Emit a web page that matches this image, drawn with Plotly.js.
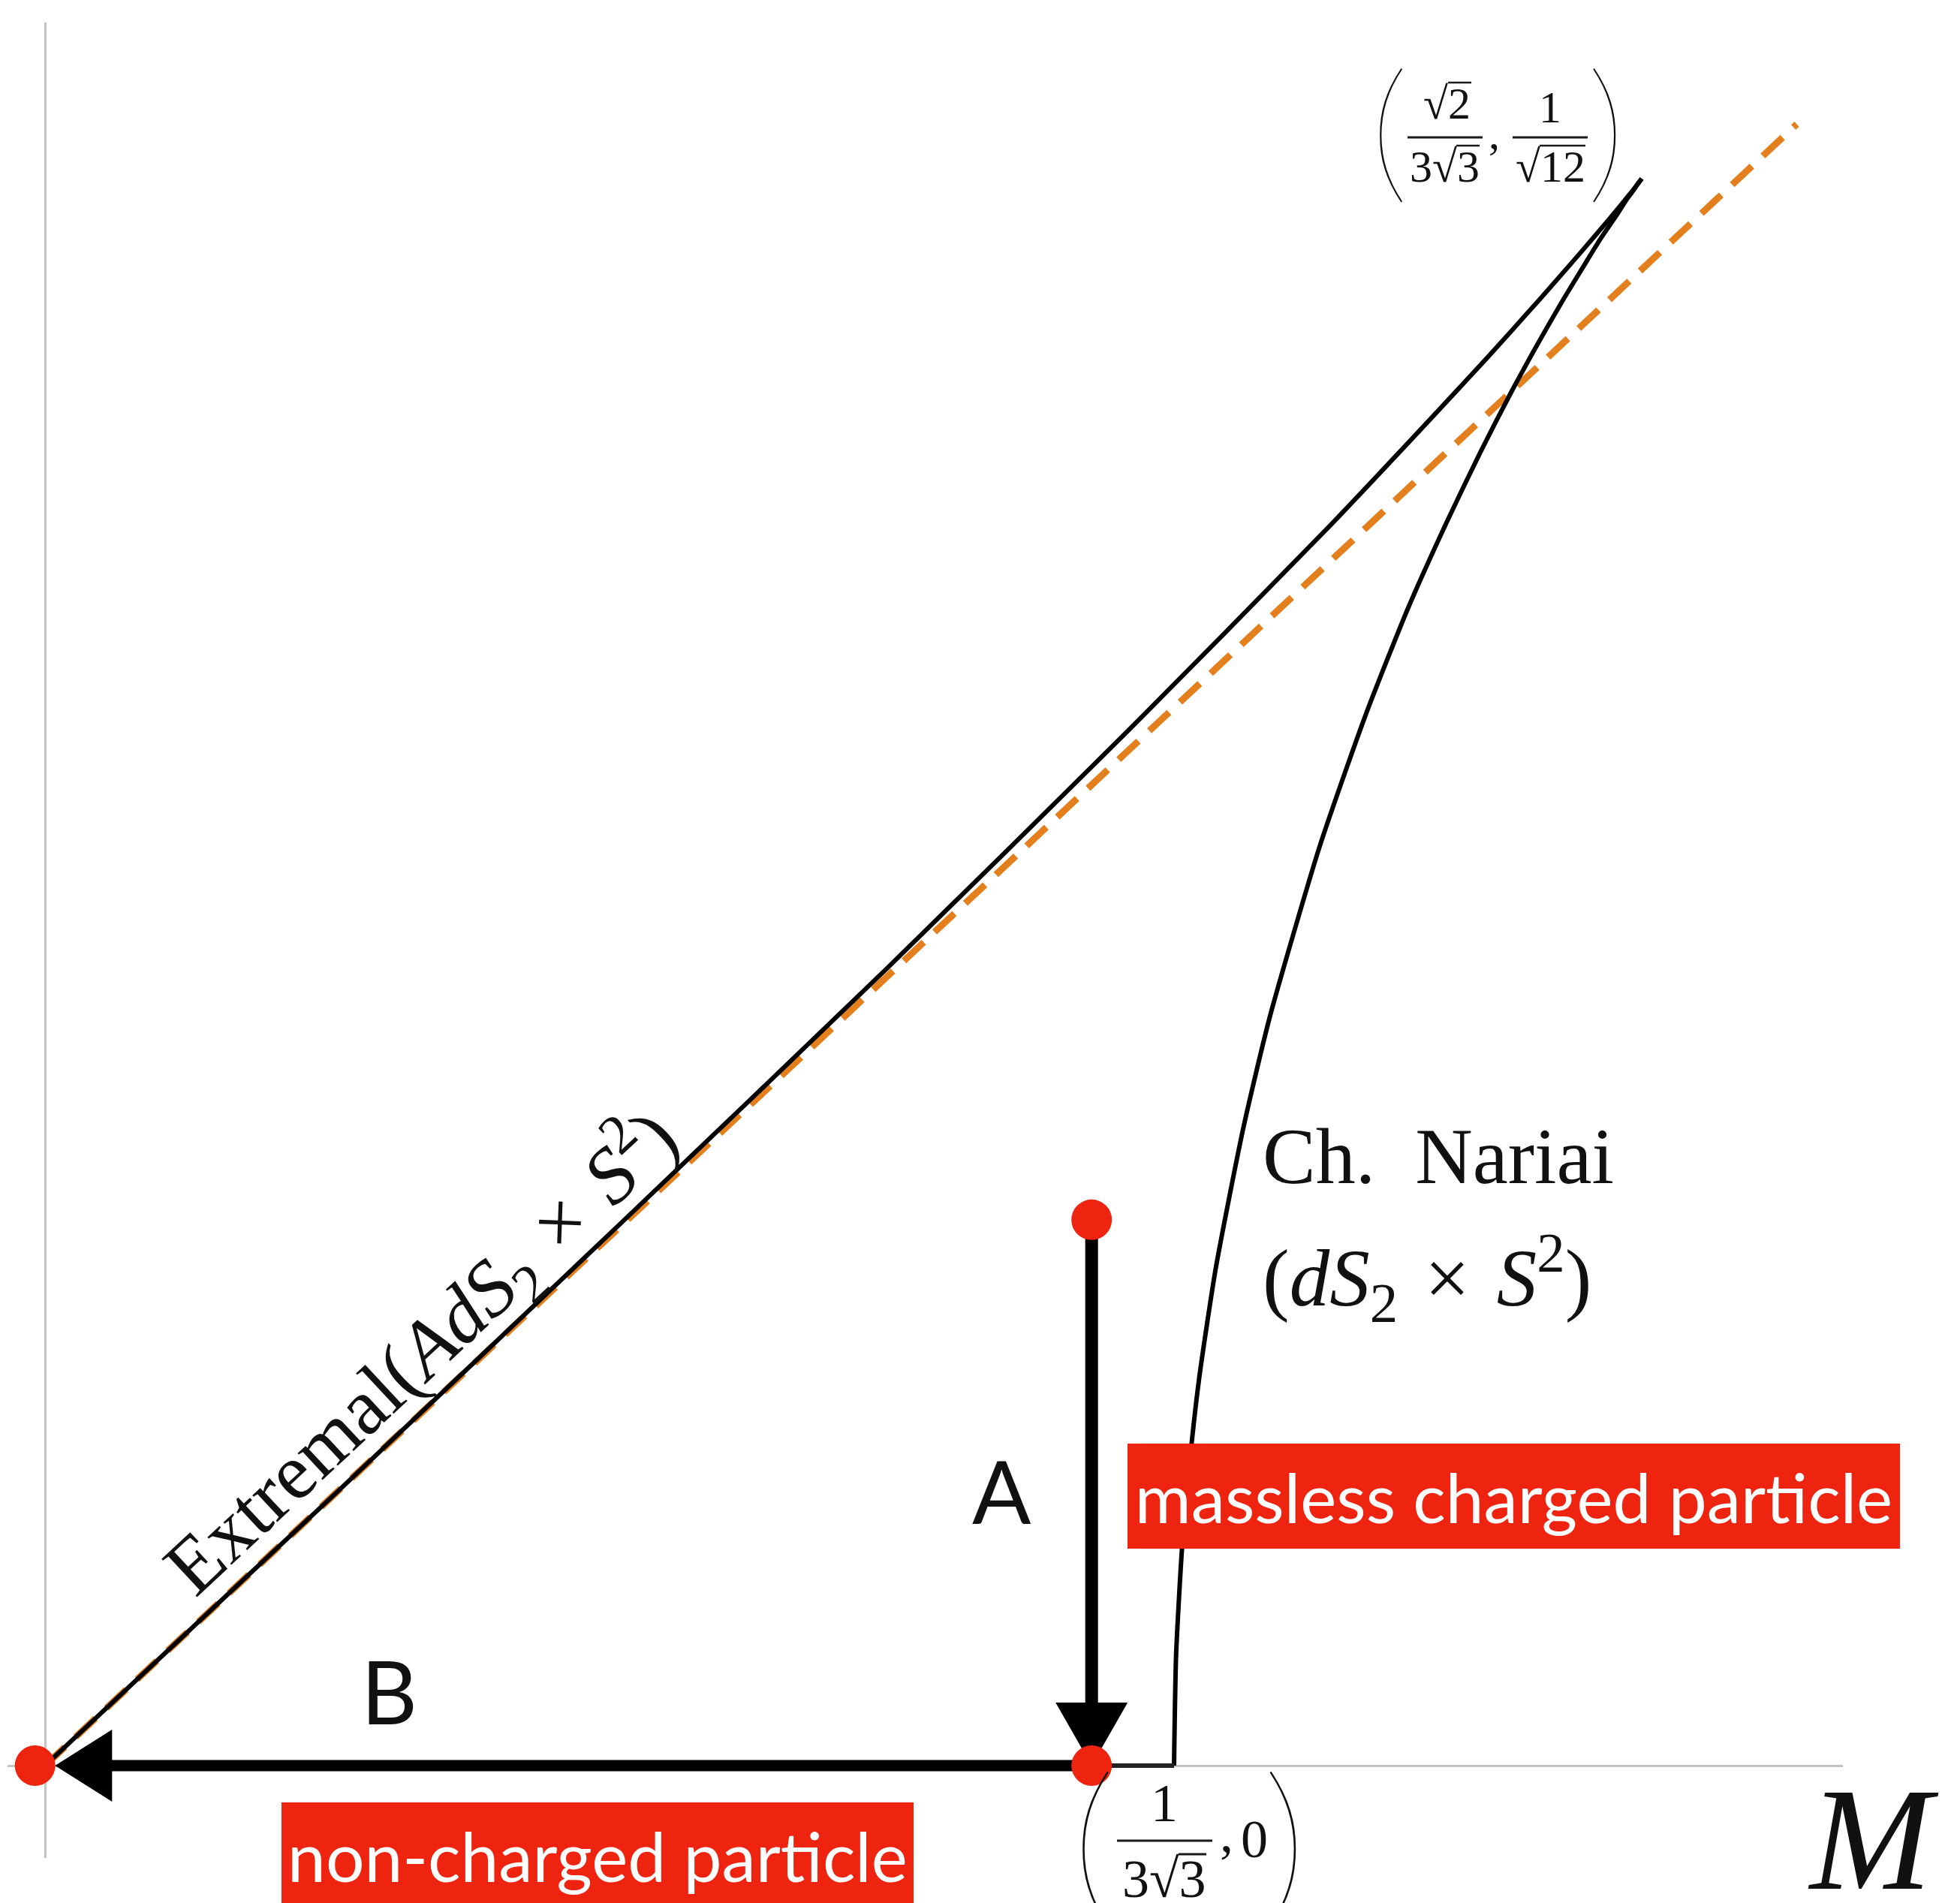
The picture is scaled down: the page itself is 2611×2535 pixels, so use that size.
<!DOCTYPE html>
<html><head><meta charset="utf-8">
<script src="https://cdn.plot.ly/plotly-3.0.1.min.js"></script>
<style>html,body{margin:0;padding:0;background:#fff}#chart{width:2611px;height:2535px}</style>
</head><body><div id="chart"></div>
<script>
// ---- data (M horizontal, Q vertical) ----
// extremal branch (AdS2 x S2), from the origin up to the cusp
const extremalM = [0, 0.0498, 0.0980, 0.1433, 0.1840, 0.2188, 0.2361, 0.2460, 0.2545, 0.2614, 0.2667, 0.2703, 0.2714, 0.2720, 0.27217];
const extremalQ = [0, 0.0498, 0.0985, 0.1448, 0.1876, 0.2253, 0.2449, 0.2563, 0.2664, 0.2748, 0.2814, 0.2861, 0.2876, 0.2884, 0.28868];
// charged Nariai branch (dS2 x S2), from the cusp down to the M axis
const nariaiM = [0.27217, 0.2718, 0.2710, 0.2696, 0.2678, 0.2653, 0.2624, 0.2588, 0.2547, 0.2500, 0.2447, 0.2388, 0.2322, 0.2251, 0.2173, 0.2088, 0.2043, 0.1996, 0.1967, 0.1948, 0.1938, 0.1928, 0.19245];
const nariaiQ = [0.28868, 0.2882, 0.2869, 0.2849, 0.2819, 0.2780, 0.2730, 0.2667, 0.2591, 0.2500, 0.2390, 0.2259, 0.2102, 0.1911, 0.1673, 0.1363, 0.1162, 0.0907, 0.0702, 0.0518, 0.0394, 0.0201, 0];
// piece of the black curve lying on the M axis
const axisSegM = [0.1784, 0.19245];
const axisSegQ = [0, 0];
// lukewarm line Q = M (orange, dashed)
const lukewarmM = [0, 0.2986];
const lukewarmQ = [0, 0.2986];
// red points
const pointM = [-0.0017, 0.1784, 0.1784];
const pointQ = [0, 0, 0.0993];
// arrows: A goes down to the M axis, B goes left to the origin
const arrowA = {fromM: 0.1784, fromQ: 0.0993, shaftEndQ: 0.0085, tipM: 0.1784, tipQ: 0};
const arrowB = {fromM: 0.1784, fromQ: 0, shaftEndM: 0.0077, tipM: 0.0017, tipQ: 0};
// text
const labelA = 'A', labelB = 'B';
const boxA = 'massless charged particle', boxB = 'non-charged particle';

// ---- geometry helpers (page pixels -> paper) ----
const W = 2611, H = 2535, ML = 10, MR = 156, MT = 30, MB = 60;
const PW = W - ML - MR, PH = H - MT - MB;
const px = v => (v - ML) / PW;
const py = v => 1 - (v - MT) / PH;

const RED = '#ee2410', INK = '#111111';
const SERIF = 'Liberation Serif, Times New Roman, serif';
const SANS = 'Lato, Noto Sans, sans-serif';

function txt(text, x, y, size, o) {
  o = o || {};
  return Object.assign({
    xref: 'paper', yref: 'paper', x: px(x), y: py(y), text: text, showarrow: false,
    xanchor: 'center', yanchor: 'middle', borderpad: 0, borderwidth: 0,
    font: Object.assign({family: SERIF, size: size, color: INK}, o.font || {})
  }, o.extra || {});
}
function bar(x0, x1, y, w) {
  return {type: 'line', xref: 'paper', yref: 'paper', x0: px(x0), x1: px(x1), y0: py(y), y1: py(y),
          line: {color: '#1a1a1a', width: w || 3}, layer: 'above'};
}
const PAREN = {family: 'Lato', weight: 200};

const traces = [
  {x: lukewarmM, y: lukewarmQ, type: 'scatter', mode: 'lines', hoverinfo: 'skip',
   line: {color: '#e37f1c', width: 9, dash: '36px,20px'}},
  {x: extremalM, y: extremalQ, type: 'scatter', mode: 'lines', hoverinfo: 'skip',
   line: {color: '#000', width: 6, shape: 'spline', smoothing: 0.6}},
  {x: nariaiM, y: nariaiQ, type: 'scatter', mode: 'lines', hoverinfo: 'skip',
   line: {color: '#000', width: 6, shape: 'spline', smoothing: 0.6}},
  {x: axisSegM, y: axisSegQ, type: 'scatter', mode: 'lines', hoverinfo: 'skip',
   line: {color: '#222', width: 6}},
  {x: pointM, y: pointQ, type: 'scatter', mode: 'markers', hoverinfo: 'skip', cliponaxis: false,
   marker: {color: RED, size: 54, line: {width: 0}}}
];

const shapes = [
  // arrow A
  {type: 'line', xref: 'x', yref: 'y', x0: arrowA.fromM, y0: arrowA.fromQ, x1: arrowA.fromM, y1: arrowA.shaftEndQ,
   line: {color: '#000', width: 17}, layer: 'between'},
  {type: 'path', xref: 'x', yref: 'y', xsizemode: 'pixel', ysizemode: 'pixel', xanchor: arrowA.tipM, yanchor: arrowA.tipQ,
   path: 'M0,0 L-48,84 L48,84 Z', fillcolor: '#000', line: {width: 0}, layer: 'between'},
  // arrow B
  {type: 'line', xref: 'x', yref: 'y', x0: arrowB.fromM, y0: arrowB.fromQ, x1: arrowB.shaftEndM, y1: arrowB.fromQ,
   line: {color: '#000', width: 15}, layer: 'between'},
  {type: 'path', xref: 'x', yref: 'y', xsizemode: 'pixel', ysizemode: 'pixel', xanchor: arrowB.tipM, yanchor: arrowB.tipQ,
   path: 'M0,0 L76,48 L76,-48 Z', fillcolor: '#000', line: {width: 0}, layer: 'between'},
  // fraction bars
  bar(1875, 1975, 183), bar(2015, 2115, 183), bar(1488, 1615, 2452),
  // radical overbars
  bar(1929, 1960, 110, 2.5), bar(1940, 1971, 194, 2.5), bar(2051, 2112, 194, 2.5), bar(1570, 1607, 2470, 3)
];

const annotations = [
  // cusp label
  txt('(', 1851, 166, 205, {font: PAREN}),
  txt('√2', 1928, 138, 60),
  txt('3√3', 1924, 222, 60),
  txt(',', 1990, 178, 60),
  txt('1', 2065, 143, 60),
  txt('√12', 2065, 222, 60),
  txt(')', 2139, 166, 205, {font: PAREN}),
  // Nariai neutral point label
  txt('(', 1456, 2446, 237, {font: PAREN}),
  txt('1', 1551, 2402, 72),
  txt('3√3', 1551, 2503, 72),
  txt(',', 1634, 2442, 72),
  txt('0', 1671, 2450, 72),
  txt(')', 1711, 2446, 237, {font: PAREN}),
  // curve labels
  txt('Ch.\u00a0 Nariai', 1682, 1540, 106, {extra: {xanchor: 'left'}}),
  txt('(<i>dS</i><sub>2</sub>\u2004×\u2004<i>S</i><sup>2</sup>)', 1682, 1702, 107, {extra: {xanchor: 'left'}}),
  txt('Extremal(<i>AdS</i><sub>2</sub>\u2004×\u2004<i>S</i><sup>2</sup>)', 560, 1800, 106, {extra: {textangle: -43}}),
  // axis label
  txt('<i>M</i>', 2495, 2450, 195),
  // arrow letters
  txt(labelA, 1334, 1985, 116, {font: {family: SANS}}),
  txt(labelB, 518, 2252, 116, {font: {family: SANS}}),
  // red boxes
  txt(boxA, 2016.5, 1993, 91, {font: {family: SANS, color: '#fff'}, extra: {bgcolor: RED, width: 1029, height: 140}}),
  txt(boxB, 796, 2471, 91, {font: {family: SANS, color: '#fff'}, extra: {bgcolor: RED, width: 842, height: 140}})
];

const axisCommon = {showgrid: false, zeroline: true, zerolinecolor: '#c4c4c4', zerolinewidth: 3,
  showticklabels: false, ticks: '', showline: false, fixedrange: true};

const layout = {
  width: W, height: H,
  margin: {l: ML, r: MR, t: MT, b: MB, pad: 0},
  paper_bgcolor: '#ffffff', plot_bgcolor: '#ffffff',
  showlegend: false,
  xaxis: Object.assign({range: [-0.006398, 0.306462]}, axisCommon),
  yaxis: Object.assign({range: [-0.016796, 0.317083]}, axisCommon),
  shapes: shapes,
  annotations: annotations
};

Plotly.newPlot('chart', traces, layout, {displayModeBar: false, staticPlot: true});
</script>
</body></html>
